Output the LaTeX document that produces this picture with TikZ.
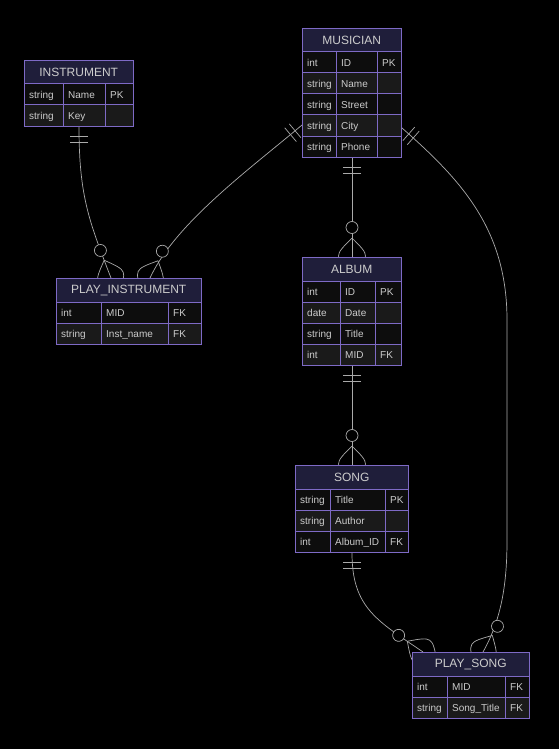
\documentclass[tikz,border=0pt]{standalone}
\usepackage{fontspec}
\setmainfont{Liberation Sans}
\usetikzlibrary{calc}
\definecolor{hdrc}{HTML}{1F1E3A}
\definecolor{rowodd}{HTML}{0D0D0D}
\definecolor{roweven}{HTML}{1A1A1A}
\definecolor{bdc}{HTML}{7E6AC6}
\definecolor{txt}{HTML}{CCCCCC}
\definecolor{lnc}{HTML}{AAAAAA}
\pgfdeclarelayer{back}
\pgfdeclarelayer{bg}
\pgfsetlayers{back,bg,main}
\tikzset{
  hdr/.style={fill=hdrc, minimum height=24pt, inner sep=0pt, font=\fontsize{12}{14}\selectfont, text=txt},
  cell/.style={anchor=west, inner sep=0pt, font=\fontsize{10}{12}\selectfont, text=txt, text height=7.2pt, text depth=0pt},
  conn/.style={draw=lnc, line width=0.7pt},
  bdline/.style={draw=bdc, line width=1pt},
}
\newcommand\erent[8]{%
  \pgfmathsetmacro\erwt{#4+#5+#6}%
  \node[hdr, minimum width=\erwt pt, anchor=north west] (#1-h) at (#2,#3) {#7};
  \foreach [count=\i] \ty/\nm/\ky in {#8} {
    \pgfmathsetmacro\eryy{#3+24+(\i-1)*21}
    \ifodd\i \def\errc{rowodd}\else\def\errc{roweven}\fi
    \fill[fill=\errc] (#2,\eryy) rectangle ++(\erwt,21);
    \draw[bdline] (#2,\eryy) -- ++(\erwt,0);
    \node[cell] at (#2+5,\eryy+10.5) {\ty};
    \node[cell] at (#2+#4+5,\eryy+10.5) {\nm};
    \node[cell] at (#2+#4+#5+5,\eryy+10.5) {\ky};
    \xdef\erlast{\i}
  }
  \pgfmathsetmacro\erht{24+\erlast*21}%
  \draw[bdline] (#2+#4,#3+24) -- ++(0,\erht-24) (#2+#4+#5,#3+24) -- ++(0,\erht-24);
  \node[bdline, minimum width=\erwt pt, minimum height=\erht pt, anchor=north west, inner sep=0pt] (#1) at (#2,#3) {};
}
\newcommand\oneone[2]{\begin{scope}[shift={(#1)},rotate=#2]
  \draw[conn] (9,-9)--(9,9) (15,-9)--(15,9);
\end{scope}}
\newcommand\zmany[2]{\begin{scope}[shift={(#1)},rotate=#2]
  \draw[conn] (-19,0) .. controls (-1,18) .. (17,0) .. controls (-1,-18) .. (-19,0);
  \draw[conn, fill=black] (-29.5,0) circle[radius=6pt];
\end{scope}}
\begin{document}
\begin{tikzpicture}[x=1pt,y=-1pt]
\begin{pgfonlayer}{back}
\fill[black] (0,0) rectangle (559,749);
\end{pgfonlayer}
\useasboundingbox (0,0) rectangle (559,749);

\erent{instrument}{24}{60}{39}{42}{28}{INSTRUMENT}{string/Name/PK, string/Key/{}}
\erent{musician}{302}{28}{34}{41}{24}{MUSICIAN}{int/ID/PK, string/Name/{}, string/Street/{}, string/City/{}, string/Phone/{}}
\erent{pinst}{56}{278}{45}{67}{33}{PLAY\_INSTRUMENT}{int/MID/FK, string/Inst\_name/FK}
\erent{album}{302}{257}{38}{35}{26}{ALBUM}{int/ID/PK, date/Date/{}, string/Title/{}, int/MID/FK}
\erent{song}{295}{465}{35}{55}{23}{SONG}{string/Title/PK, string/Author/{}, int/Album\_ID/FK}
\erent{psong}{412}{652}{35}{58}{24}{PLAY\_SONG}{int/MID/FK, string/Song\_Title/FK}

\begin{pgfonlayer}{bg}
% INSTRUMENT -> PLAY_INSTRUMENT
\coordinate (s1) at ($(instrument.south west)+(55,0)$);
\coordinate (e1) at ($(pinst.north west)+(55,0)$);
\draw[conn] (s1) to[out=-90,in=111,out distance=70pt,in distance=60pt] (e1);
\oneone{s1}{-90}\zmany{e1}{-69}
% MUSICIAN -> PLAY_INSTRUMENT
\coordinate (s2) at ($(musician.north west)+(0,97)$);
\coordinate (e2) at ($(pinst.north west)+(94,0)$);
\draw[conn] (s2) to[out=-139.9,in=65.2,out distance=70pt,in distance=60pt] (e2);
\oneone{s2}{-139.9}\zmany{e2}{-114.8}
% MUSICIAN -> ALBUM
\draw[conn] (musician.south) -- (album.north);
\oneone{musician.south}{-90}\zmany{album.north}{-90}
% ALBUM -> SONG
\draw[conn] (album.south) -- (song.north);
\oneone{album.south}{-90}\zmany{song.north}{-90}
% SONG -> PLAY_SONG
\coordinate (e5) at ($(psong.north west)+(11,0)$);
\draw[conn] (song.south) to[out=-90,in=145.6,out distance=55pt,in distance=55pt] (e5);
\oneone{song.south}{-90}\zmany{e5}{-34.4}
% MUSICIAN -> PLAY_SONG
\coordinate (s6) at ($(musician.north east)+(0,100)$);
\coordinate (v1) at (507,320);
\coordinate (v2) at (507,540);
\coordinate (e6) at ($(psong.north west)+(71,0)$);
\draw[conn] (s6) to[out=-41.3,in=90,out distance=80pt,in distance=90pt] (v1) -- (v2)
  to[out=-90,in=60.6,out distance=40pt,in distance=40pt] (e6);
\oneone{s6}{-41.3}\zmany{e6}{-119.4}
\end{pgfonlayer}
\end{tikzpicture}
\end{document}
